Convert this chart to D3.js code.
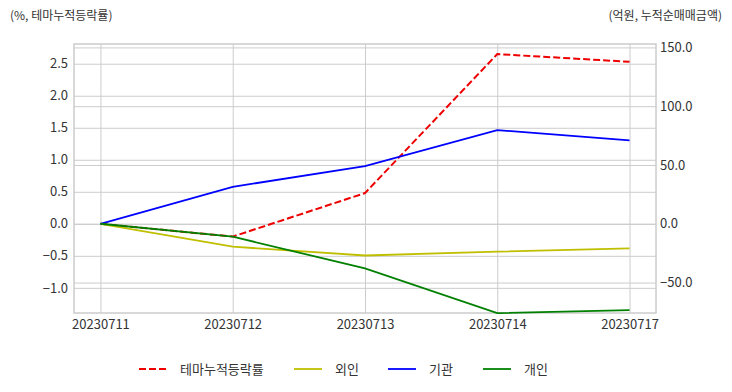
<!DOCTYPE html>
<html>
<head>
<meta charset="utf-8">
<script src="https://cdn.jsdelivr.net/npm/d3@7"></script>
<style>
  body { margin: 0; background: #fff; }
  text { font-family: "Noto Sans CJK KR", "Noto Sans", sans-serif; fill: #333; }
</style>
</head>
<body>
<script>
// chart data
const dates = ["20230711", "20230712", "20230713", "20230714", "20230717"];
const themeRate = [0, -0.2, 0.48, 2.65, 2.53];       // left axis (%)
const foreign = [0, -19.5, -27, -23.7, -21];         // right axis (억원)
const institution = [0, 31.4, 49, 79.7, 71];
const individual = [0, -11, -38, -76, -73.5];

const leftTicks = [-1.0, -0.5, 0, 0.5, 1.0, 1.5, 2.0, 2.5];
const rightTicks = [-50, 0, 50, 100, 150];

const width = 732, height = 392;
const margin = { top: 44, right: 76, bottom: 79, left: 74 };

const svg = d3.select("body").append("svg")
  .attr("width", width)
  .attr("height", height);

const x = d3.scaleLinear()
  .domain([-0.2, dates.length - 1 + 0.2])
  .range([margin.left, width - margin.right]);

const yL = d3.scaleLinear()
  .domain([-1.393, 2.808])
  .range([height - margin.bottom, margin.top]);

const yR = d3.scaleLinear()
  .domain([-75.9, 152.9])
  .range([height - margin.bottom, margin.top]);

const gridColor = "#cccccc";
const plotW = width - margin.left - margin.right;
const plotH = height - margin.top - margin.bottom;

// left grid + labels
svg.append("g")
  .attr("transform", `translate(${margin.left},0)`)
  .call(d3.axisLeft(yL).tickValues(leftTicks).tickFormat(d3.format(".1f")).tickSize(-plotW).tickPadding(6))
  .call(g => g.select(".domain").remove())
  .call(g => g.selectAll("line").attr("stroke", gridColor))
  .call(g => g.selectAll("text").attr("font-size", 13).style("fill", "#333"));

// right grid + labels
svg.append("g")
  .attr("transform", `translate(${width - margin.right},0)`)
  .call(d3.axisRight(yR).tickValues(rightTicks).tickFormat(d3.format(".1f")).tickSize(-plotW).tickPadding(4))
  .call(g => g.select(".domain").remove())
  .call(g => g.selectAll("line").attr("stroke", gridColor))
  .call(g => g.selectAll("text").attr("font-size", 13).style("fill", "#333"));

// x grid + labels
svg.append("g")
  .attr("transform", `translate(0,${height - margin.bottom})`)
  .call(d3.axisBottom(x).tickValues(d3.range(dates.length)).tickFormat(i => dates[i]).tickSize(-plotH).tickPadding(7))
  .call(g => g.select(".domain").remove())
  .call(g => g.selectAll("line").attr("stroke", gridColor))
  .call(g => g.selectAll("text").attr("font-size", 13).style("fill", "#333"));

// frame
svg.append("rect")
  .attr("x", margin.left)
  .attr("y", margin.top)
  .attr("width", plotW)
  .attr("height", plotH)
  .attr("fill", "none")
  .attr("stroke", gridColor)
  .attr("stroke-width", 1.5);

svg.append("clipPath").attr("id", "plot")
  .append("rect")
  .attr("x", margin.left).attr("y", margin.top - 1)
  .attr("width", plotW).attr("height", plotH + 2);

const series = [
  { name: "테마누적등락률", values: themeRate, y: yL, color: "#ee0000", dash: "7,3", w: 2 },
  { name: "외인", values: foreign, y: yR, color: "#bfbf00", dash: null, w: 1.8 },
  { name: "기관", values: institution, y: yR, color: "#0000ff", dash: null, w: 1.8 },
  { name: "개인", values: individual, y: yR, color: "#008000", dash: null, w: 1.8 }
];

const lines = svg.append("g").attr("clip-path", "url(#plot)");
series.forEach(s => {
  const line = d3.line()
    .x((d, i) => x(i))
    .y(d => s.y(d));
  lines.append("path")
    .datum(s.values)
    .attr("d", line)
    .attr("fill", "none")
    .attr("stroke", s.color)
    .attr("stroke-width", s.w)
    .attr("stroke-dasharray", s.dash);
});

// axis titles
svg.append("text")
  .attr("x", 10).attr("y", 20)
  .attr("font-size", 12)
  .text("(%, 테마누적등락률)");

svg.append("text")
  .attr("x", 722).attr("y", 20)
  .attr("font-size", 12)
  .attr("text-anchor", "end")
  .text("(억원, 누적순매매금액)");

// legend
const legendX = [139, 294, 388, 483];
const legend = svg.append("g").attr("transform", "translate(0,369)");
series.forEach((s, i) => {
  legend.append("line")
    .attr("x1", legendX[i]).attr("x2", legendX[i] + 28)
    .attr("y1", 0).attr("y2", 0)
    .attr("stroke", s.color)
    .attr("stroke-width", s.w)
    .attr("stroke-dasharray", s.dash);
  legend.append("text")
    .attr("x", legendX[i] + 41)
    .attr("y", 0)
    .attr("dy", "0.35em")
    .attr("font-size", 13)
    .text(s.name);
});
</script>
</body>
</html>
